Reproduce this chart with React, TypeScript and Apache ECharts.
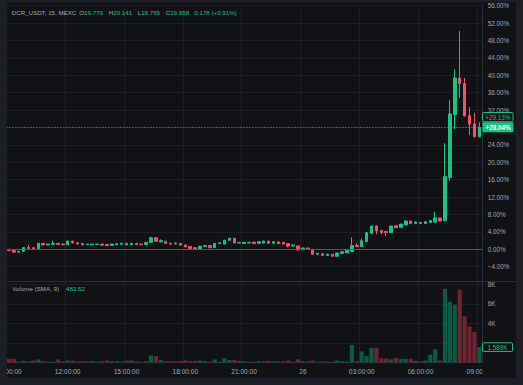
import React, { useEffect, useRef } from "react";
import * as echarts from "echarts";

// ---- data (percent change from first open) ----
const tickLabels = ["09:00:00", "12:00:00", "15:00:00", "18:00:00", "21:00:00", "26", "03:00:00", "06:00:00", "09:00:00"];

const openPct = [
  0.0, -0.25, -0.65, -0.45, 0.4, 0.35, 0.1, 1.38, 1.0, 1.15,
  1.35, 1.2, 1.05, 1.9, 1.5, 1.35, 1.05, 1.05, 1.1, 1.2,
  1.1, 0.9, 1.05, 1.15, 1.4, 1.05, 1.38, 1.2, 1.05, 1.6,
  2.68, 1.7, 1.85, 1.4, 1.4, 1.35, 1.0, 0.65, 0.35, 0.0,
  0.6, 0.85, 0.4, 1.3, 1.2, 2.1, 2.55, 1.45, 1.35, 1.45,
  1.65, 1.35, 1.45, 1.9, 1.4, 1.7, 1.6, 1.3, 0.75, 0.76,
  -0.1, 0.3, 0.0, -1.15, -1.0, -1.4, -1.15, -1.6, -0.95, -0.8,
  -0.5, 0.9, 0.6, 1.75, 3.7, 5.35, 4.3, 4.1, 3.85, 5.4,
  5.05, 5.6, 6.5, 5.9, 6.2, 5.9, 6.15, 6.25, 7.2, 6.6,
  16.5, 31.0, 39.4, 38.1, 30.7, 28.8, 25.9,
];
const closePct = [
  -0.25, -0.65, -0.45, 0.4, 0.2, 0.1, 1.38, 1.0, 1.2, 1.35,
  1.1, 1.05, 1.9, 1.45, 1.2, 1.0, 1.2, 1.2, 1.2, 0.95,
  0.85, 1.2, 1.3, 1.4, 1.0, 1.38, 1.05, 1.05, 1.6, 2.68,
  1.85, 2.0, 1.35, 1.2, 1.2, 0.95, 0.55, 0.15, 0.0, 0.7,
  0.85, 0.35, 1.38, 1.5, 2.1, 2.55, 1.45, 1.6, 1.6, 1.62,
  1.3, 1.75, 1.9, 1.4, 1.75, 1.3, 1.25, 0.76, 0.95, -0.16,
  0.3, 0.1, -1.15, -0.9, -1.4, -1.1, -1.6, -0.85, -0.55, -0.2,
  0.84, 0.6, 1.98, 3.83, 5.35, 4.2, 3.85, 3.85, 5.35, 4.95,
  5.8, 6.5, 5.9, 6.3, 5.9, 6.35, 6.6, 7.2, 6.5, 16.7,
  31.1, 39.4, 38.1, 30.7, 28.8, 25.9, 28.04,
];
const lowPct = [
  -0.3, -0.85, -0.7, -0.5, 0.15, 0.05, 0.05, 0.95, 0.98, 1.1,
  1.05, 1.0, 1.0, 1.4, 1.15, 0.95, 1.0, 1.0, 1.05, 0.9,
  0.8, 0.85, 1.0, 1.1, 0.95, 1.0, 1.0, 1.0, 1.0, 1.55,
  1.8, 1.65, 1.3, 1.15, 1.15, 0.9, 0.5, 0.1, -0.05, -0.05,
  0.55, 0.3, 0.35, 1.25, 1.15, 2.05, 1.4, 1.4, 1.3, 1.4,
  1.25, 1.3, 1.4, 1.35, 1.35, 1.25, 1.2, 0.45, 0.7, -0.4,
  -0.15, 0.05, -1.2, -1.2, -1.45, -1.45, -1.65, -1.65, -1.0, -0.85,
  -0.55, 0.55, 0.55, 1.7, 3.65, 3.45, 3.45, 3.0, 3.8, 4.9,
  5.0, 5.55, 5.85, 5.85, 5.85, 5.85, 6.1, 6.2, 6.45, 6.4,
  15.8, 27.6, 34.8, 30.5, 26.3, 25.6, 25.7,
];
const highPct = [
  0.05, -0.2, -0.4, 0.45, 1.0, 0.4, 1.4, 1.42, 1.25, 2.0,
  1.4, 1.3, 1.95, 1.95, 1.55, 1.4, 1.25, 1.25, 1.25, 1.25,
  1.15, 1.25, 1.35, 1.45, 1.45, 1.4, 1.4, 1.25, 1.65, 2.85,
  2.75, 2.3, 1.9, 1.45, 1.6, 1.4, 1.05, 0.7, 0.4, 0.8,
  0.9, 0.9, 1.4, 1.55, 2.15, 2.6, 2.6, 1.65, 1.65, 1.7,
  1.7, 1.8, 1.95, 1.95, 1.8, 1.75, 1.65, 1.35, 1.2, 0.8,
  0.35, 0.35, 0.1, -0.85, -0.95, -1.05, -1.1, -0.8, -0.5, -0.15,
  2.75, 1.4, 2.5, 3.9, 5.4, 5.45, 4.4, 4.15, 5.4, 5.5,
  5.85, 6.6, 6.55, 6.35, 6.25, 6.4, 6.65, 8.65, 7.3, 24.4,
  34.3, 41.4, 50.2, 39.4, 32.7, 31.4, 29.2,
];
const volume = [
  400, 400, 100, 200, 150, 230, 330, 150, 100, 100,
  330, 150, 230, 230, 150, 150, 150, 150, 100, 150,
  230, 150, 150, 100, 230, 230, 150, 100, 150, 740,
  670, 270, 180, 150, 150, 180, 230, 180, 180, 230,
  150, 100, 330, 100, 470, 270, 270, 180, 150, 100,
  100, 150, 150, 200, 150, 150, 150, 230, 100, 350,
  150, 150, 230, 100, 150, 100, 100, 230, 150, 100,
  1830, 150, 1150, 670, 1520, 1520, 450, 450, 350, 500,
  400, 400, 400, 200, 150, 230, 810, 1350, 230, 7540,
  6220, 5920, 7440, 4730, 3690, 3150, 1589,
];

const headerSymbol = "DCR_USDT, 15, MEXC";
const headerFields = [
  ["O", "19.779"],
  ["H", "20.141"],
  ["L", "19.765"],
  ["C", "19.958"],
];
const headerChange = "0.178 (+0.91%)";
const volumeTitle = "Volume (SMA, 9)";
const volumeSma = "482.52";
const prevLabelPct = 29.13;

// ---- styles ----
const BG = "#101216";
const FRAME = "#1c1f26";
const GRID = "#1c1f25";
const SEP = "#2a2d35";
const TXT = "#a4a7b0";
const GREEN = "#19c384";
const RED = "#f4506a";
const VGREEN = "#0c5a40";
const VRED = "#6c2531";
const FONT = "'Liberation Sans', Arial, sans-serif";

// unique category keys: day + time of each 15-minute candle
const categories = openPct.map((_, i) => {
  const m = 9 * 60 + i * 15;
  const day = 25 + Math.floor(m / 1440);
  const h = Math.floor(m / 60) % 24;
  const mm = m % 60;
  return `${day} ${String(h).padStart(2, "0")}:${String(mm).padStart(2, "0")}`;
});

export default function App() {
  const ref = useRef<HTMLDivElement>(null);

  useEffect(() => {
    if (!ref.current) return;
    const chart = echarts.init(ref.current, undefined, { renderer: "svg" });
    const n = openPct.length;
    const candles = openPct.map((o, i) => [o, closePct[i], lowPct[i], highPct[i]]);
    const lastClose = closePct[n - 1];
    const lastVol = volume[n - 1];

    const option: any = {
      animation: false,
      backgroundColor: BG,
      textStyle: { fontFamily: FONT },
      grid: [
        { left: 6.45, right: 41.25, top: 5.7, height: 278.4 },
        { left: 6.45, right: 41.25, top: 284.3, height: 78.4 },
      ],
      xAxis: [
        {
          type: "category",
          gridIndex: 0,
          data: categories,
          axisLine: { show: false },
          axisTick: { show: false },
          axisLabel: { show: false },
          splitLine: { show: true, interval: 11, lineStyle: { color: GRID, width: 1 } },
        },
        {
          type: "category",
          gridIndex: 1,
          data: categories,
          axisLine: { show: true, lineStyle: { color: SEP } },
          axisTick: { show: false },
          axisLabel: { show: false },
          splitLine: { show: true, interval: 11, lineStyle: { color: GRID, width: 1 } },
        },
      ],
      yAxis: [
        {
          type: "value",
          gridIndex: 0,
          position: "right",
          min: -8,
          max: 56,
          interval: 4,
          axisLine: { show: true, lineStyle: { color: SEP } },
          axisTick: { show: false },
          splitLine: { lineStyle: { color: GRID, width: 1 } },
          axisLabel: {
            // labels hidden behind the price tag are not drawn
            formatter: (v: number) =>
              v === -8 || Math.abs(v - lastClose) < 2.5
                ? ""
                : (v < 0 ? "\u2212" : "") + Math.abs(v).toFixed(2) + "%",
            color: TXT,
            fontSize: 6.3,
            margin: 6,
            align: "left",
            fontFamily: FONT,
          },
        },
        {
          type: "value",
          gridIndex: 1,
          position: "right",
          min: 0,
          max: 8000,
          interval: 2000,
          axisLine: { show: true, lineStyle: { color: SEP } },
          axisTick: { show: false },
          splitLine: { lineStyle: { color: GRID, width: 1 } },
          axisLabel: {
            formatter: (v: number) => (v === 0 || Math.abs(v - lastVol) < 700 ? "" : v / 1000 + "K"),
            color: TXT,
            fontSize: 6.3,
            margin: 6,
            align: "left",
            fontFamily: FONT,
          },
        },
      ],
      series: [
        {
          type: "candlestick",
          xAxisIndex: 0,
          yAxisIndex: 0,
          data: candles,
          barWidth: 3,
          itemStyle: {
            color: GREEN,
            color0: RED,
            borderColor: GREEN,
            borderColor0: RED,
            borderWidth: 1,
          },
          markLine: {
            silent: true,
            symbol: ["none", "none"],
            label: { show: false },
            data: [
              { yAxis: 0, lineStyle: { color: "#55585f", type: "solid", width: 1 } },
              { yAxis: lastClose, lineStyle: { color: GREEN, type: [1, 2], width: 1 } },
            ],
          },
        },
        {
          type: "bar",
          xAxisIndex: 1,
          yAxisIndex: 1,
          barWidth: 4.2,
          data: volume.map((v, i) => ({
            value: v,
            itemStyle: { color: closePct[i] >= openPct[i] ? VGREEN : VRED },
          })),
        },
      ],
    };
    chart.setOption(option);

    const yClose = chart.convertToPixel({ yAxisIndex: 0 }, lastClose) as number;
    const yVol = chart.convertToPixel({ yAxisIndex: 1 }, lastVol) as number;
    const axisX = 482.5;

    // time labels, placed at their categories (clipped by the frame like the original)
    const timeTexts = tickLabels.map((t, k) => {
      const idx = Math.min(k * 12, n - 1);
      const x = chart.convertToPixel({ xAxisIndex: 1 }, categories[idx]) as number;
      return {
        type: "text", z: 98, x, y: 371,
        style: { text: t, fill: TXT, fontSize: 6.6, fontFamily: FONT, align: "center", verticalAlign: "middle" },
      };
    });

    const hdrPos = [79.3, 108.8, 137.7, 165.7];
    const graphic: any[] = [
      ...timeTexts,
      // frame strips
      { type: "rect", z: 100, shape: { x: 0, y: 0, width: 7, height: 385 }, style: { fill: FRAME } },
      { type: "rect", z: 100, shape: { x: 0, y: 0, width: 523, height: 2.5 }, style: { fill: FRAME } },
      { type: "rect", z: 100, shape: { x: 516, y: 0, width: 7, height: 385 }, style: { fill: FRAME } },
      { type: "rect", z: 100, shape: { x: 0, y: 378, width: 523, height: 7 }, style: { fill: FRAME } },
      // clip the last time label at the price scale
      { type: "rect", z: 99, shape: { x: axisX, y: 363.5, width: 33.5, height: 14.5 }, style: { fill: BG } },
      // pane separator
      { type: "line", z: 99, shape: { x1: 7, y1: 281.5, x2: 516, y2: 281.5 }, style: { stroke: SEP, lineWidth: 1 } },
      // header
      {
        type: "text", z: 101, x: 11.7, y: 12.7,
        style: { text: headerSymbol, fill: TXT, fontSize: 6.2, fontFamily: FONT, verticalAlign: "middle" },
      },
      ...headerFields.map(([k, v], i) => ({
        type: "text", z: 101, x: hdrPos[i], y: 12.7,
        style: {
          text: `{k|${k}}{v|${v}}`,
          fontSize: 6.2, fontFamily: FONT, verticalAlign: "middle",
          rich: { k: { fill: TXT, fontSize: 6.2, fontFamily: FONT }, v: { fill: GREEN, fontSize: 6.2, fontFamily: FONT } },
        },
      })),
      {
        type: "text", z: 101, x: 194.3, y: 12.7,
        style: { text: headerChange, fill: GREEN, fontSize: 6.2, fontFamily: FONT, verticalAlign: "middle" },
      },
      // volume header
      {
        type: "text", z: 101, x: 12.3, y: 288.8,
        style: { text: volumeTitle, fill: TXT, fontSize: 6.2, fontFamily: FONT, verticalAlign: "middle" },
      },
      {
        type: "text", z: 101, x: 66, y: 288.8,
        style: { text: volumeSma, fill: GREEN, fontSize: 6.2, fontFamily: FONT, verticalAlign: "middle" },
      },
      // price labels
      {
        type: "rect", z: 101,
        shape: { x: axisX, y: yClose - 14.8, width: 30.5, height: 9.2, r: 1 },
        style: { fill: BG, stroke: GREEN, lineWidth: 1 },
      },
      {
        type: "text", z: 102, x: axisX + 15.25, y: yClose - 10.2,
        style: { text: "+" + prevLabelPct.toFixed(2) + "%", fill: GREEN, fontSize: 6.3, fontFamily: FONT, align: "center", verticalAlign: "middle" },
      },
      {
        type: "rect", z: 101,
        shape: { x: axisX, y: yClose - 5, width: 31, height: 10, r: 1 },
        style: { fill: GREEN },
      },
      {
        type: "text", z: 102, x: axisX + 15.5, y: yClose,
        style: { text: "+" + lastClose.toFixed(2) + "%", fill: "#ffffff", fontSize: 6.3, fontWeight: "bold", fontFamily: FONT, align: "center", verticalAlign: "middle" },
      },
      // volume label
      {
        type: "rect", z: 101,
        shape: { x: axisX, y: yVol - 4.3, width: 30, height: 8.6, r: 1 },
        style: { fill: BG, stroke: GREEN, lineWidth: 1 },
      },
      {
        type: "text", z: 102, x: axisX + 15, y: yVol,
        style: { text: (lastVol / 1000).toFixed(3) + "K", fill: GREEN, fontSize: 6.3, fontFamily: FONT, align: "center", verticalAlign: "middle" },
      },
    ];
    chart.setOption({ graphic });

    return () => chart.dispose();
  }, []);

  return (
    <div
      ref={ref}
      style={{ position: "fixed", left: 0, top: 0, width: 523, height: 385, background: BG }}
    />
  );
}
